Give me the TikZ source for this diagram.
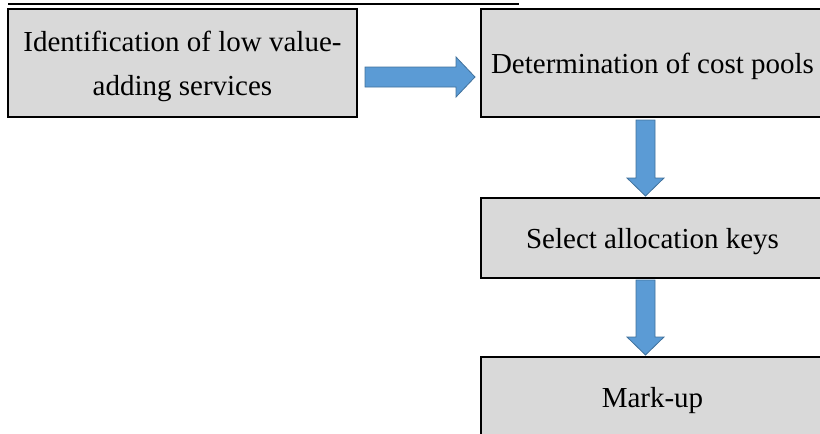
\documentclass[tikz,border=0pt]{standalone}
\usepackage{fontspec}
\setmainfont{Liberation Serif}
\usetikzlibrary{calc}

\tikzset{
  stepbox/.style={draw=black,line width=2pt,fill=boxgray,inner sep=0pt,text depth=0pt,
    minimum height=#1,font=\fontsize{29}{44}\selectfont,align=center},
  blockarrow/.style={fill=arrowblue,draw=arrowedge,line width=0.8pt,line join=miter}
}

\begin{document}
\begin{tikzpicture}[x=1pt,y=-1pt]

\definecolor{boxgray}{RGB}{217,217,217}
\definecolor{arrowblue}{RGB}{91,155,213}
\definecolor{arrowedge}{RGB}{65,113,156}

\useasboundingbox (0,0) rectangle (820,434);
\clip (0,0) rectangle (820,434);

% cut-off caption rule
\draw[line width=2.2pt] (8,4)--(519,4);

\node[stepbox=108pt,minimum width=349pt] (ident) at (182.5,63)
  {Identification of low value-\\adding services};
\node[stepbox=108pt,minimum width=343pt] (costpool) at (652.5,63)
  {Determination of cost pools};
\node[stepbox=80pt,minimum width=343pt] (alloc) at (652.5,238)
  {Select allocation keys};
\node[stepbox=90pt,minimum width=343pt,text depth=10pt] (markup) at (652.5,402)
  {Mark-up};

% block arrows
\coordinate (h0) at ($(ident.east)+(7,14)$);
\coordinate (h1) at ($(costpool.west|-h0)+(-5,0)$);
\draw[blockarrow] ($(h0)+(0,-10)$)--($(h1)+(-19,-10)$)--($(h1)+(-19,-20)$)--(h1)
  --($(h1)+(-19,20)$)--($(h1)+(-19,10)$)--($(h0)+(0,10)$)--cycle;

\coordinate (v0) at ($(costpool.south)+(-7,2)$);
\coordinate (v1) at ($(alloc.north)+(-7,-1)$);
\draw[blockarrow] ($(v0)+(-9.5,0)$)--($(v1)+(-9.5,-18)$)--($(v1)+(-18.5,-18)$)--(v1)
  --($(v1)+(18.5,-18)$)--($(v1)+(9.5,-18)$)--($(v0)+(9.5,0)$)--cycle;

\coordinate (w0) at ($(alloc.south)+(-7,1)$);
\coordinate (w1) at ($(markup.north)+(-7,-1)$);
\draw[blockarrow] ($(w0)+(-9.5,0)$)--($(w1)+(-9.5,-18)$)--($(w1)+(-18.5,-18)$)--(w1)
  --($(w1)+(18.5,-18)$)--($(w1)+(9.5,-18)$)--($(w0)+(9.5,0)$)--cycle;

\end{tikzpicture}
\end{document}
